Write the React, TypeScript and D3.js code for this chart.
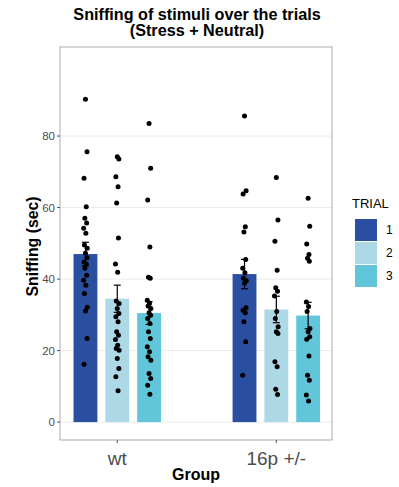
import React from "react";
import * as d3 from "d3";

// Groups, trials and the per-trial summaries (mean ± SE)
const groups = ["wt", "16p +/-"];
const trials = ["1", "2", "3"];
const trialColors = ["#2A4EA0", "#ADD8E6", "#62C6DA"];

const meansWt = [47.0, 34.5, 30.5];
const seWt = [3.3, 3.8, 3.2];
const means16p = [41.4, 31.5, 29.8];
const se16p = [4.1, 3.7, 3.7];

// Individual animals, one list per group x trial
const wtTrial1 = [90.3, 75.6, 68.2, 60.2, 57.0, 55.7, 54.2, 52.8, 49.5, 48.6, 47.2, 46.0, 44.8, 44.2, 43.0, 41.1, 39.7, 38.3, 36.0, 32.1, 31.1, 23.4, 16.2];
const wtTrial2 = [74.2, 73.6, 68.6, 65.8, 61.3, 51.5, 44.2, 41.9, 33.9, 33.2, 31.8, 30.4, 29.5, 28.1, 25.3, 24.3, 23.1, 21.5, 20.6, 20.1, 17.8, 15.0, 12.7, 8.8];
const wtTrial3 = [83.5, 71.0, 62.1, 49.0, 40.5, 40.2, 34.1, 33.2, 32.5, 31.8, 30.6, 29.9, 29.0, 27.6, 25.3, 23.4, 21.1, 19.7, 18.3, 17.3, 13.6, 12.2, 10.3, 7.8];
const p16Trial1 = [85.6, 64.7, 63.8, 54.6, 53.2, 45.5, 43.0, 41.8, 40.2, 39.5, 38.8, 32.0, 31.3, 30.6, 28.1, 22.5, 13.1];
const p16Trial2 = [68.4, 56.5, 50.6, 42.5, 37.6, 36.6, 35.3, 30.9, 29.0, 26.7, 25.3, 24.8, 16.9, 15.5, 9.2, 7.7];
const p16Trial3 = [62.6, 54.8, 49.8, 46.9, 45.8, 45.0, 33.6, 32.3, 30.9, 26.2, 25.3, 23.9, 23.2, 18.5, 13.1, 11.7, 7.6, 5.9];

const yTicks = [0, 20, 40, 60, 80];

const W = 399;
const H = 487;
const panel = { left: 60, right: 332, top: 47, bottom: 440 };

// small fixed horizontal spread so overlapping dots stay visible
const spread = [0, 1.6, -1.4, 0.8, -0.6, 1.2, -1.8, 0.4, -1.0, 1.8];

export default function App() {
  const x = d3.scaleLinear().domain([0.64, 2.35]).range([panel.left, panel.right]);
  const y = d3.scaleLinear().domain([-5.0, 104.9]).range([panel.bottom, panel.top]);

  const dodge = 0.2;
  const barW = x(0.15) - x(0);
  const capW = 7;

  const summary = [
    { means: meansWt, se: seWt },
    { means: means16p, se: se16p },
  ];
  const points = [
    [wtTrial1, wtTrial2, wtTrial3],
    [p16Trial1, p16Trial2, p16Trial3],
  ];

  const cx = (g: number, t: number) => x(g + 1 + (t - 1) * dodge);

  const font = "'Liberation Sans', Arial, sans-serif";

  return (
    <svg
      width={W}
      height={H}
      style={{ position: "absolute", left: 0, top: 0, background: "#fff" }}
      fontFamily={font}
    >
      {/* title */}
      <text x={197} y={19.5} textAnchor="middle" fontSize={16.2} fontWeight="bold" fill="#000">
        Sniffing of stimuli over the trials
      </text>
      <text x={197} y={36} textAnchor="middle" fontSize={16.2} fontWeight="bold" fill="#000">
        (Stress + Neutral)
      </text>

      {/* panel background and grid */}
      <rect x={panel.left} y={panel.top} width={panel.right - panel.left} height={panel.bottom - panel.top} fill="#fff" />
      {yTicks.map((t) => (
        <line key={"g" + t} x1={panel.left} x2={panel.right} y1={y(t)} y2={y(t)} stroke="#EBEBEB" strokeWidth={1} />
      ))}

      {/* bars */}
      {groups.map((g, gi) =>
        trials.map((t, ti) => (
          <rect
            key={"b" + gi + ti}
            x={cx(gi, ti) - barW / 2}
            y={y(summary[gi].means[ti])}
            width={barW}
            height={y(0) - y(summary[gi].means[ti])}
            fill={trialColors[ti]}
          />
        ))
      )}

      {/* individual points */}
      {groups.map((g, gi) =>
        trials.map((t, ti) =>
          points[gi][ti].map((v, i) => (
            <circle
              key={"p" + gi + ti + "_" + i}
              cx={cx(gi, ti) + spread[i % spread.length]}
              cy={y(v)}
              r={2.5}
              fill="#000"
            />
          ))
        )
      )}

      {/* error bars */}
      {groups.map((g, gi) =>
        trials.map((t, ti) => {
          const m = summary[gi].means[ti];
          const s = summary[gi].se[ti];
          const xc = cx(gi, ti);
          return (
            <g key={"e" + gi + ti} stroke="#000" strokeWidth={1.2}>
              <line x1={xc} x2={xc} y1={y(m - s)} y2={y(m + s)} />
              <line x1={xc - capW / 2} x2={xc + capW / 2} y1={y(m + s)} y2={y(m + s)} />
              <line x1={xc - capW / 2} x2={xc + capW / 2} y1={y(m - s)} y2={y(m - s)} />
            </g>
          );
        })
      )}

      {/* panel border */}
      <rect
        x={panel.left}
        y={panel.top}
        width={panel.right - panel.left}
        height={panel.bottom - panel.top}
        fill="none"
        stroke="#B3B3B3"
        strokeWidth={1.1}
      />

      {/* y axis */}
      {yTicks.map((t) => (
        <g key={"yt" + t}>
          <line x1={panel.left - 3} x2={panel.left} y1={y(t)} y2={y(t)} stroke="#4D4D4D" strokeWidth={1} />
          <text x={panel.left - 5} y={y(t)} dy="0.35em" textAnchor="end" fontSize={11.5} fill="#4D4D4D">
            {t}
          </text>
        </g>
      ))}
      <text
        transform={`translate(${32},${(panel.top + panel.bottom) / 2 + 3}) rotate(-90)`}
        textAnchor="middle"
        dy="0.35em"
        fontSize={15.8}
        fontWeight="bold"
        fill="#000"
      >
        Sniffing (sec)
      </text>

      {/* x axis */}
      {groups.map((g, gi) => (
        <g key={"xt" + gi}>
          <line x1={x(gi + 1)} x2={x(gi + 1)} y1={panel.bottom} y2={panel.bottom + 3} stroke="#4D4D4D" strokeWidth={1} />
          <text x={x(gi + 1)} y={panel.bottom + 25} textAnchor="middle" fontSize={19} fill="#4D4D4D">
            {g}
          </text>
        </g>
      ))}
      <text x={(panel.left + panel.right) / 2} y={480} textAnchor="middle" fontSize={16} fontWeight="bold" fill="#000">
        Group
      </text>

      {/* legend */}
      <text x={352} y={208} fontSize={13} fill="#000">
        TRIAL
      </text>
      {trials.map((t, ti) => (
        <g key={"l" + ti}>
          <rect x={355} y={219 + ti * 23} width={22} height={22} fill={trialColors[ti]} />
          <text x={386} y={219 + ti * 23 + 11} dy="0.35em" fontSize={12} fill="#000">
            {t}
          </text>
        </g>
      ))}
    </svg>
  );
}
